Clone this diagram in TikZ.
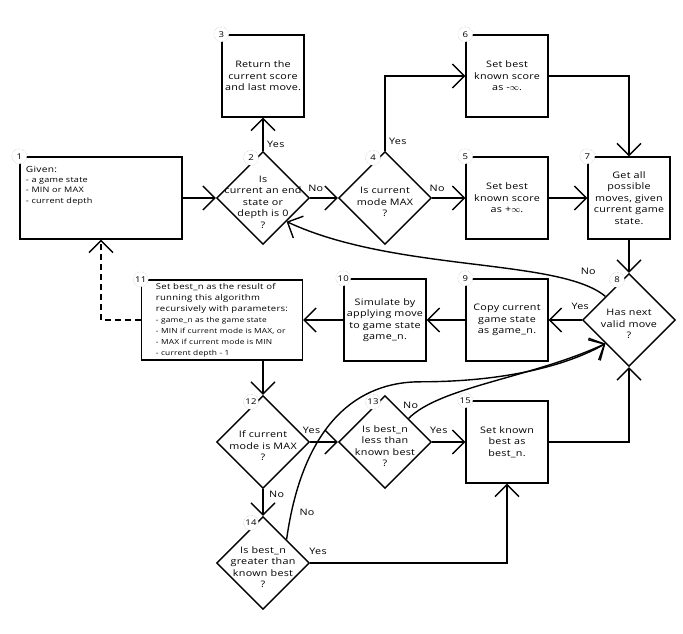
\documentclass[tikz,border=0pt]{standalone}
\usepackage{fontspec}
\setmainfont{Open Sans}[FakeStretch=1.2, LetterSpace=3]
\usepackage{tikz}
\usetikzlibrary{arrows.meta,positioning,calc,shapes.geometric}
\newcommand\smalltxt{\fontsize{7}{10.2}\selectfont}
\tikzset{
  box/.style={draw, line width=1.4bp, align=center, minimum width=82bp, minimum height=82bp, inner sep=2bp, font=\fontsize{9}{11.5}\selectfont},
  decision/.style={draw, diamond, aspect=1, line width=1.4bp, minimum width=93bp, minimum height=93bp, inner sep=0pt},
  qtext/.style={align=center, yshift=-4bp, font=\fontsize{9}{11.5}\selectfont},
  num/.style={circle, draw=gray!60, densely dotted, fill=white, minimum size=15bp, inner sep=0pt, font=\fontsize{8}{8}\selectfont},
  tag/.style={font=\fontsize{9}{10}\selectfont, inner sep=1.5bp},
  line/.style={-{Straight Barb[length=12bp, width=24bp]}, line width=1.4bp}
}
\begin{document}
\begin{tikzpicture}[node distance=122bp and 122bp, on grid]
  \useasboundingbox (-263bp,-436bp) rectangle (420bp,198bp);
  % top rows
  \node[decision, label={[qtext]center:{Is\\current an end\\state or\\depth is 0\\?}}] (n2) at (0,0) {};
  \node[box, minimum width=162bp, left=162bp of n2] (n1) {\parbox[c][64bp][t]{150bp}{\fontsize{8.5}{10.5}\selectfont Given:\\\fontsize{7.6}{10.3}\selectfont - a game state\\- MIN or MAX\\- current depth}};
  \node[box, above=of n2] (n3) {Return the\\current score\\and last move.};
  \node[decision, right=of n2, label={[qtext]center:{Is current\\mode MAX\\?}}] (n4) {};
  \node[box, right=of n4] (n5) {Set best\\known score\\as +$\infty$.};
  \node[box, above=of n5] (n6) {Set best\\known score\\as -$\infty$.};
  \node[box, right=of n5] (n7) {Get all\\possible\\moves, given\\current game\\state.};
  % loop row
  \node[decision, below=of n7, label={[qtext]center:{Has next\\valid move\\?}}] (n8) {};
  \node[box, left=of n8] (n9) {Copy current\\game state\\as game\_n.};
  \node[box, left=of n9] (n10) {Simulate by\\applying move\\to game state\\game\_n.};
  \node[box, minimum width=161bp, minimum height=80bp, align=left, font=\fontsize{8}{11}\selectfont, left=163bp of n10] (n11) {Set best\_n as the result of\\running this algorithm\\recursively with parameters:\\\smalltxt - game\_n as the game state\\\smalltxt - MIN if current mode is MAX, or\\\smalltxt - MAX if current mode is MIN\\\smalltxt - current depth - 1};
  % comparisons
  \node[decision, below=244bp of n2, label={[qtext]center:{If current\\mode is MAX\\?}}] (n12) {};
  \node[decision, right=of n12, label={[qtext]center:{Is best\_n\\less than\\known best\\?}}] (n13) {};
  \node[box, right=of n13] (n15) {Set known\\best as\\best\_n.};
  \node[decision, below=121bp of n12, label={[qtext]center:{Is best\_n\\greater than\\known best\\?}}] (n14) {};
  \coordinate (m) at ($(n13.north)+(35bp,13bp)$);

  \draw[line] (n1.east) -- (n2.west);
  \draw[line] (n2.north) -- node[tag, pos=0.2, right, xshift=2bp] (y1) {Yes} (n3.south);
  \draw[line] (n2.east) -- node[tag, pos=0.2, above, yshift=4bp] (no1) {No} (n4.west);
  \draw[line] (n4.north) |- node[tag, pos=0.06, right, xshift=2bp] (y2) {Yes} (n6.west);
  \draw[line] (n4.east) -- node[tag, pos=0.15, above, yshift=4bp] (no2) {No} (n5.west);
  \draw[line] (n5.east) -- (n7.west);
  \draw[line] (n6.east) -| (n7.north);
  \draw[line] (n7.south) -- (n8.north);
  \draw[line] (n8.west) -- node[tag, pos=0.05, above, yshift=8bp] (y3) {Yes} (n9.east);
  \draw[line] (n8.north west) .. controls +(140:60bp) and +(-25:120bp) .. node[tag, pos=0.1, above=10bp] (no3) {No} (n2.south east);
  \draw[line] (n9.west) -- (n10.east);
  \draw[line] (n10.west) -- (n11.east);
  \draw[line, dash pattern=on 6bp off 4bp] (n11.west) -| (n1.south);
  \draw[line] (n11.south -| n12.north) -- (n12.north);
  \draw[line] (n12.east) -- node[tag, pos=0.05, above, yshift=6bp] (y4) {Yes} (n13.west);
  \draw[line] (n12.south) -- node[tag, pos=0.2, right, xshift=4bp] (no4) {No} (n14.north);
  \draw[line] (n13.east) -- node[tag, pos=0.2, above, yshift=6bp] (y5) {Yes} (n15.west);
  \draw[line] (n13.north east) .. controls +(45:45bp) and +(-155:80bp) .. node[tag, pos=0.02, above, yshift=6bp] (no5) {No} (n8.south west);
  \draw[line] (n14.north east) .. controls +(82:120bp) and +(180:60bp) .. node[tag, pos=0.08, right, xshift=6bp] (no6) {No} (m) .. controls +(0:90bp) and +(-150:40bp) .. (n8.south west);
  \draw[line] (n14.east) -| node[tag, pos=0.02, above, yshift=6bp] (y6) {Yes} (n15.south);
  \draw[line] (n15.east) -| (n8.south);

  % step numbers
  \node[num] (c1) at (n1.north west) {1};
  \node[num] (c3) at (n3.north west) {3};
  \node[num] (c5) at (n5.north west) {5};
  \node[num] (c6) at (n6.north west) {6};
  \node[num] (c7) at (n7.north west) {7};
  \node[num] (c9) at (n9.north west) {9};
  \node[num] (c10) at (n10.north west) {10};
  \node[num] (c11) at (n11.north west) {11};
  \node[num] (c15) at (n15.north west) {15};
  \node[num] (c2) at ($(n2.north)+(-12bp,-7bp)$) {2};
  \node[num] (c4) at ($(n4.north)+(-12bp,-7bp)$) {4};
  \node[num] (c8) at ($(n8.north)+(-12bp,-7bp)$) {8};
  \node[num] (c12) at ($(n12.north)+(-12bp,-7bp)$) {12};
  \node[num] (c13) at ($(n13.north)+(-12bp,-7bp)$) {13};
  \node[num] (c14) at ($(n14.north)+(-12bp,-7bp)$) {14};
\end{tikzpicture}
\end{document}
